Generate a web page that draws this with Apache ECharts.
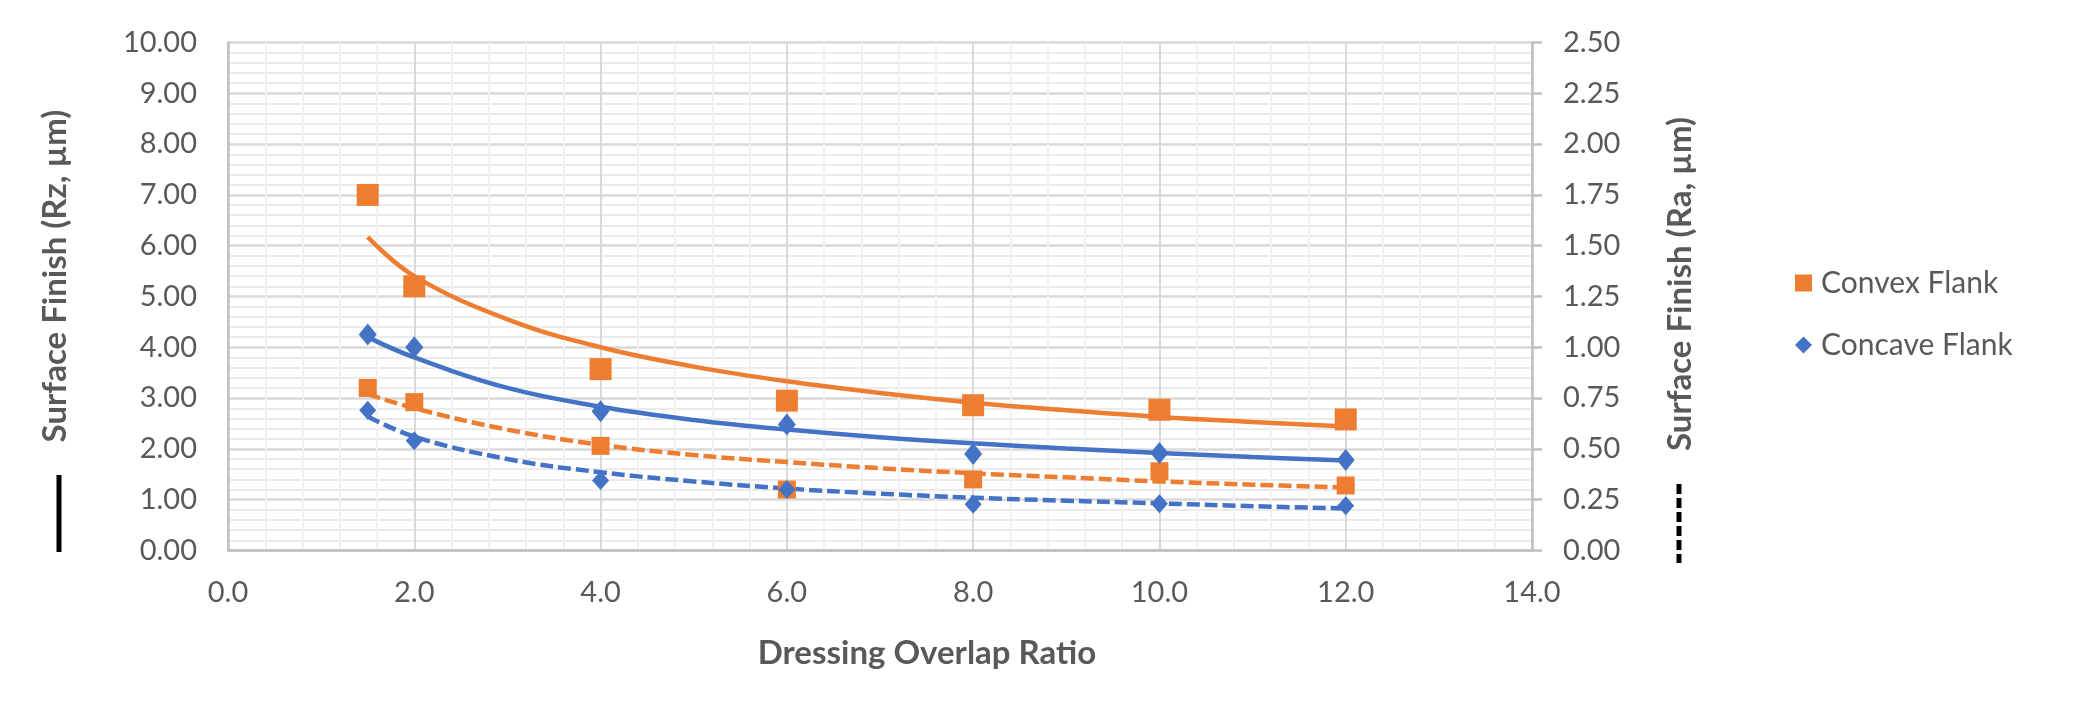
<!DOCTYPE html>
<html>
<head>
<meta charset="utf-8">
<script src="https://cdn.jsdelivr.net/npm/echarts@6/dist/echarts.min.js"></script>
<style>
html, body { margin: 0; padding: 0; background: #ffffff; }
#chart { width: 2100px; height: 710px; }
</style>
</head>
<body>
<div id="chart"></div>
<script>
// ---- data ----
const overlapRatio = [1.5, 2, 4, 6, 8, 10, 12];
const convexRz  = [7.00, 5.20, 3.57, 2.95, 2.86, 2.77, 2.58];
const concaveRz = [4.25, 4.00, 2.74, 2.48, 1.90, 1.92, 1.78];
const convexRa  = [0.80, 0.73, 0.515, 0.30, 0.35, 0.39, 0.32];
const concaveRa = [0.69, 0.54, 0.345, 0.30, 0.228, 0.23, 0.22];

// trendlines
const trendX = [1.5, 2, 3, 4, 5, 6, 7, 8, 9, 10, 11, 12];
const convexRzTrend  = [6.17, 5.40, 4.55, 4.00, 3.62, 3.33, 3.10, 2.91, 2.76, 2.63, 2.53, 2.44];
const concaveRzTrend = [4.20, 3.80, 3.20, 2.83, 2.57, 2.38, 2.23, 2.11, 2.01, 1.92, 1.84, 1.77];
const convexRaTrend  = [0.77, 0.70, 0.595, 0.52, 0.47, 0.435, 0.405, 0.38, 0.36, 0.34, 0.324, 0.31];
const concaveRaTrend = [0.66, 0.56, 0.45, 0.385, 0.34, 0.305, 0.28, 0.26, 0.245, 0.232, 0.218, 0.207];

const seriesNames = ['Convex Flank', 'Concave Flank'];
const xTitle = 'Dressing Overlap Ratio';
const leftTitle = 'Surface Finish (Rz, µm)';
const rightTitle = 'Surface Finish (Ra, µm)';

const ORANGE = '#ED7D31';
const BLUE = '#4472C4';
const TEXT = '#595959';
const FONT = 'Lato, "Open Sans", sans-serif';

function pairs(xs, ys) { return xs.map((x, i) => [x, ys[i]]); }

const chart = echarts.init(document.getElementById('chart'));

const labelStyle = { color: TEXT, fontSize: 29, fontFamily: FONT };

function trend(name, axis, ys, color, dashed) {
  return {
    name: name, type: 'line', yAxisIndex: axis, data: pairs(trendX, ys),
    smooth: 0.4, showSymbol: false, symbol: 'none', z: 3, silent: true,
    lineStyle: { color: color, width: 4.5, type: dashed ? [13, 5] : 'solid', cap: 'butt' }
  };
}

chart.setOption({
  animation: false,
  backgroundColor: '#ffffff',
  grid: { left: 228, top: 42.5, width: 1304, height: 508, containLabel: false },
  xAxis: {
    type: 'value', min: 0, max: 14, interval: 2,
    axisLine: { show: true, onZero: false, lineStyle: { color: '#bfbfbf', width: 2.5 } },
    axisTick: { show: false },
    axisLabel: Object.assign({ margin: 28, formatter: v => v.toFixed(1) }, labelStyle),
    splitLine: { show: true, lineStyle: { color: '#d9d9d9', width: 2 } },
    minorTick: { show: false, splitNumber: 5 },
    minorSplitLine: { show: true, lineStyle: { color: '#f2f2f2', width: 2 } }
  },
  yAxis: [
    {
      type: 'value', min: 0, max: 10, interval: 1, position: 'left',
      axisLine: { show: true, lineStyle: { color: '#bfbfbf', width: 2.5 } },
      axisTick: { show: false },
      axisLabel: Object.assign({ margin: 31, formatter: v => v.toFixed(2) }, labelStyle),
      splitLine: { show: true, lineStyle: { color: '#d9d9d9', width: 2.5 } },
      minorTick: { show: false, splitNumber: 5 },
      minorSplitLine: { show: true, lineStyle: { color: '#ebebeb', width: 2 } }
    },
    {
      type: 'value', min: 0, max: 2.5, interval: 0.25, position: 'right',
      axisLine: { show: true, lineStyle: { color: '#bfbfbf', width: 2.5 } },
      axisTick: { show: true, inside: false, length: 10, lineStyle: { color: '#bfbfbf', width: 2.5 } },
      axisLabel: Object.assign({ margin: 31, formatter: v => v.toFixed(2) }, labelStyle),
      splitLine: { show: false }
    }
  ],
  legend: {
    orient: 'vertical',
    left: 1790, top: 263,
    itemWidth: 17, itemHeight: 17, itemGap: 32,
    textStyle: { color: TEXT, fontSize: 30, fontFamily: FONT, padding: [0, 0, 0, 4] },
    data: [
      { name: seriesNames[0], icon: 'rect', itemStyle: { color: ORANGE, opacity: 1 } },
      { name: seriesNames[1], icon: 'diamond', itemStyle: { color: BLUE, opacity: 1 } }
    ]
  },
  graphic: [
    { type: 'text', x: 55, y: 276, rotation: Math.PI / 2,
      style: { text: leftTitle, fill: TEXT, font: 'bold 33px ' + FONT, textAlign: 'center', textVerticalAlign: 'middle' } },
    { type: 'line', shape: { x1: 59, y1: 475, x2: 59, y2: 552 },
      style: { stroke: '#000000', lineWidth: 5 } },
    { type: 'text', x: 1680, y: 284, rotation: Math.PI / 2,
      style: { text: rightTitle, fill: TEXT, font: 'bold 33px ' + FONT, textAlign: 'center', textVerticalAlign: 'middle' } },
    { type: 'line', shape: { x1: 1679, y1: 484, x2: 1679, y2: 563 },
      style: { stroke: '#000000', lineWidth: 5, lineDash: [10, 4] } },
    { type: 'text', x: 927, y: 653,
      style: { text: xTitle, fill: TEXT, font: 'bold 33px ' + FONT, textAlign: 'center', textVerticalAlign: 'middle' } }
  ],
  series: [
    trend('Convex Rz trend', 0, convexRzTrend, ORANGE, false),
    trend('Concave Rz trend', 0, concaveRzTrend, BLUE, false),
    trend('Convex Ra trend', 1, convexRaTrend, ORANGE, true),
    trend('Concave Ra trend', 1, concaveRaTrend, BLUE, true),
    { name: seriesNames[0], type: 'scatter', yAxisIndex: 0, data: pairs(overlapRatio, convexRz),
      symbol: 'rect', symbolSize: 22, itemStyle: { color: ORANGE, opacity: 1 }, z: 4 },
    { name: seriesNames[0], type: 'scatter', yAxisIndex: 1, data: pairs(overlapRatio, convexRa),
      symbol: 'rect', symbolSize: 18, itemStyle: { color: ORANGE, opacity: 1 }, z: 4 },
    { name: seriesNames[1], type: 'scatter', yAxisIndex: 0, data: pairs(overlapRatio, concaveRz),
      symbol: 'diamond', symbolSize: [18, 22], itemStyle: { color: BLUE, opacity: 1 }, z: 4 },
    { name: seriesNames[1], type: 'scatter', yAxisIndex: 1, data: pairs(overlapRatio, concaveRa),
      symbol: 'diamond', symbolSize: [17, 19], itemStyle: { color: BLUE, opacity: 1 }, z: 4 }
  ]
});
</script>
</body>
</html>
